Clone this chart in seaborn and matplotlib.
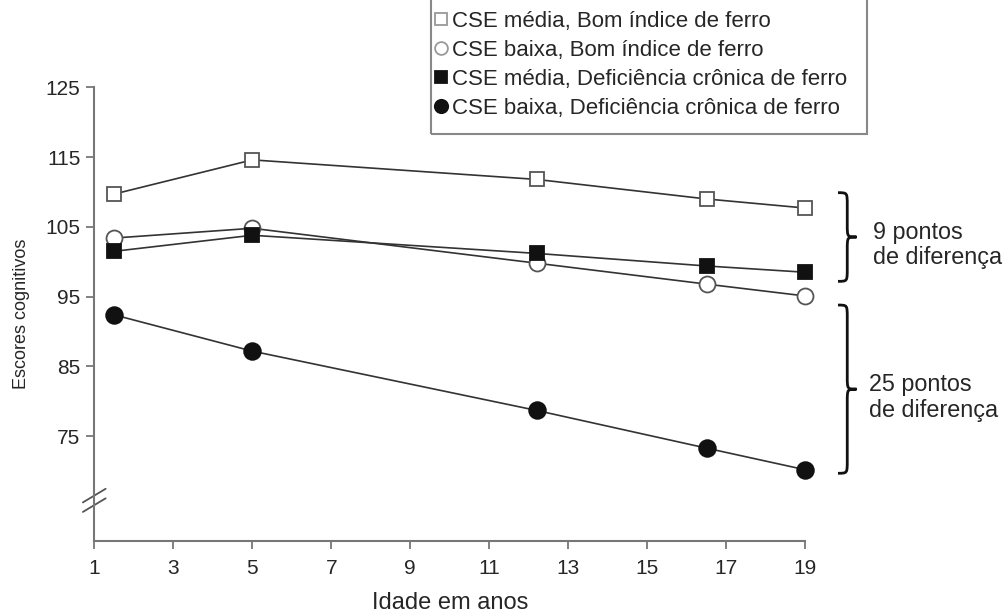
import numpy as np
import pandas as pd
import matplotlib
matplotlib.use("Agg")
import matplotlib.pyplot as plt
from matplotlib.path import Path
from matplotlib.patches import PathPatch, Rectangle
import seaborn as sns

# idade (anos) em cada avaliacao
idades = [1.5, 5, 12.2, 16.5, 19]

media_bom = [109.7, 114.6, 111.8, 109.0, 107.7]
baixa_bom = [103.4, 104.8, 99.8, 96.8, 95.1]
media_def = [101.5, 103.8, 101.2, 99.4, 98.5]
baixa_def = [92.4, 87.2, 78.7, 73.3, 70.2]

rotulos = [
    "CSE média, Bom índice de ferro",
    "CSE baixa, Bom índice de ferro",
    "CSE média, Deficiência crônica de ferro",
    "CSE baixa, Deficiência crônica de ferro",
]

yticks = [75, 85, 95, 105, 115, 125]
xticks = [1, 3, 5, 7, 9, 11, 13, 15, 17, 19]

sns.set_style("ticks")
plt.rcParams["font.family"] = ["Liberation Sans", "DejaVu Sans"]

W, H = 1006, 613
fig, ax = plt.subplots(figsize=(W / 100, H / 100), dpi=100)
fig.subplots_adjust(left=0.0937, right=0.8005, bottom=0.1175, top=0.8576)

linha = "#333333"
estilos = [
    dict(marker="s", markerfacecolor="white", markeredgecolor="#555555", markersize=10.5),
    dict(marker="o", markerfacecolor="white", markeredgecolor="#555555", markersize=11.5),
    dict(marker="s", markerfacecolor="#111111", markeredgecolor="#111111", markersize=10.5),
    dict(marker="o", markerfacecolor="#111111", markeredgecolor="#111111", markersize=12),
]
series = [media_bom, baixa_bom, media_def, baixa_def]

for vals, est, lab in zip(series, estilos, rotulos):
    df = pd.DataFrame({"idade": idades, "escore": vals})
    sns.lineplot(data=df, x="idade", y="escore", ax=ax, color=linha, linewidth=1.2,
                 markeredgewidth=1.3, label=lab, clip_on=False, **est)

ax.set_xlim(1, 19)
ax.set_ylim(60, 125)
ax.set_xticks(xticks)
ax.set_yticks(yticks)
ax.set_xlabel("Idade em anos", fontsize=17, labelpad=10)
ax.set_ylabel("Escores cognitivos", fontsize=13, labelpad=11)
ax.tick_params(labelsize=15, length=5.5, width=1.3, color="#777777")
ax.tick_params(axis="y", pad=4.5)
ax.tick_params(axis="x", pad=7.5)
for s in ["left", "bottom"]:
    ax.spines[s].set_color("#777777")
    ax.spines[s].set_linewidth(1.5)
sns.despine(ax=ax)

# marca de quebra no eixo y
ax.plot([-0.016, 0.016], [0.085, 0.115], transform=ax.transAxes, color="#555555",
        lw=1.3, clip_on=False)
ax.plot([-0.016, 0.016], [0.064, 0.094], transform=ax.transAxes, color="#555555",
        lw=1.3, clip_on=False)

# legenda (caixa aberta no topo)
fig.patches.append(Rectangle((431 / W, 1 - 134 / H), (867 - 431) / W, 140 / H,
                             transform=fig.transFigure, facecolor="none",
                             edgecolor="#888888", lw=1.5, zorder=5))
leg = ax.legend(loc="lower left", bbox_to_anchor=(434 / W, 1 - 119 / H),
                bbox_transform=fig.transFigure, borderaxespad=0, fontsize=16,
                frameon=False, handlelength=0.6, handletextpad=0.2,
                labelspacing=0.36, borderpad=0, markerscale=0.8)
for h in leg.get_lines():
    h.set_linestyle("none")
leg.get_lines()[0].set_markeredgecolor("#999999")
leg.get_lines()[1].set_markeredgecolor("#999999")


def chave(ax, y0, y1, x0=1.046, x1=1.059, x2=1.072, r=1.8):
    ym = (y0 + y1) / 2
    verts = [(x0, y0), (x1, y0), (x1, y0), (x1, y0 - r),
             (x1, ym + r),
             (x1, ym), (x1, ym), (x2, ym),
             (x1, ym), (x1, ym), (x1, ym - r),
             (x1, y1 + r),
             (x1, y1), (x1, y1), (x0, y1)]
    codes = [Path.MOVETO, Path.CURVE4, Path.CURVE4, Path.CURVE4,
             Path.LINETO,
             Path.CURVE4, Path.CURVE4, Path.CURVE4,
             Path.CURVE4, Path.CURVE4, Path.CURVE4,
             Path.LINETO,
             Path.CURVE4, Path.CURVE4, Path.CURVE4]
    p = PathPatch(Path(verts, codes), transform=ax.get_yaxis_transform(),
                  facecolor="none", edgecolor="#111111", lw=2, clip_on=False)
    ax.add_patch(p)


chave(ax, 109.9, 97.2)
chave(ax, 93.8, 69.7)
ax.text(1.095, 102.4, "9 pontos\nde diferença", transform=ax.get_yaxis_transform(),
        fontsize=16.8, va="center", ha="left", linespacing=1.15)
ax.text(1.089, 80.6, "25 pontos\nde diferença", transform=ax.get_yaxis_transform(),
        fontsize=16.8, va="center", ha="left", linespacing=1.15)

fig.savefig("out.png", dpi=100)
